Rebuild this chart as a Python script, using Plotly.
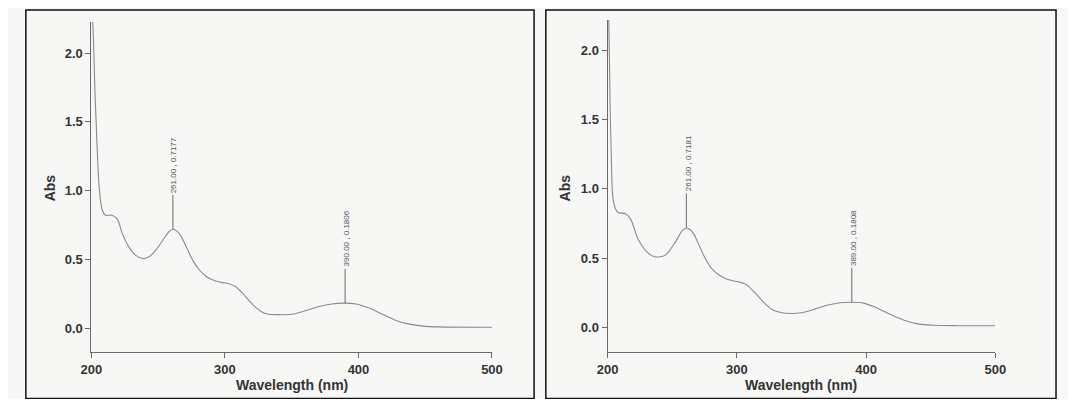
import plotly.graph_objects as go

# ---- data ----
wl_left = [200.5, 201.5, 202.5, 203.5, 204.5, 206, 208, 210.5, 215.5, 219.5, 223, 228, 233, 238.5,
           243.5, 248.5, 255, 258, 261, 264, 267, 271, 276, 281, 286, 292, 298, 303, 308, 313, 318,
           323, 328, 333, 340, 350, 360, 370, 380, 390, 398, 408, 418, 428, 438, 448, 460, 500]
abs_left = [2.30, 2.10, 1.75, 1.50, 1.25, 1.00, 0.86, 0.82, 0.82, 0.79, 0.69, 0.59, 0.53, 0.505,
            0.52, 0.57, 0.66, 0.70, 0.7177, 0.705, 0.67, 0.59, 0.49, 0.42, 0.375, 0.345, 0.33, 0.322,
            0.30, 0.255, 0.20, 0.15, 0.115, 0.10, 0.097, 0.10, 0.125, 0.155, 0.175, 0.1806, 0.175,
            0.145, 0.10, 0.055, 0.028, 0.014, 0.008, 0.005]

wl_right = [200.5, 201, 202, 203, 204, 206, 208, 214, 218, 223.5, 231, 236.5, 244.5, 252, 258, 261,
            264, 267, 271, 276, 281, 286, 292, 298, 303, 308, 313, 318, 323, 328, 335, 342, 350,
            360, 370, 380, 389, 398, 406, 414, 422, 430, 440, 452, 470, 500]
abs_right = [2.30, 2.20, 1.60, 1.20, 0.95, 0.86, 0.83, 0.82, 0.78, 0.64, 0.54, 0.51, 0.52, 0.61, 0.70,
             0.7181, 0.705, 0.67, 0.59, 0.49, 0.42, 0.38, 0.35, 0.335, 0.325, 0.305, 0.26, 0.21, 0.16,
             0.125, 0.105, 0.10, 0.105, 0.13, 0.16, 0.178, 0.1808, 0.175, 0.15, 0.115, 0.08, 0.05, 0.025,
             0.015, 0.012, 0.012]

peaks_left_wl = [261.00, 390.00]
peaks_left_abs = [0.7177, 0.1806]
peaks_right_wl = [261.00, 389.00]
peaks_right_abs = [0.7181, 0.1808]

x_ticks = [200, 300, 400, 500]
y_ticks = [0.0, 0.5, 1.0, 1.5, 2.0]

# ---- styling ----
W, H = 1060, 391          # page body has an 8px margin
BG = "#f7f7f6"
CURVE = "#8a8a8a"
AXC = "#6a6a6a"
TXT = "#333333"
LEAD = 0.25  # leader line length (data units)
FONT = "Liberation Sans, Arial, sans-serif"
OFF = 8


def fx(v):
    return (v - OFF) / W


def fy(v):
    return 1 - (v - OFF) / H


fig = go.Figure()

panels = [
    dict(wl=wl_left, ab=abs_left, pw=peaks_left_wl, pa=peaks_left_abs, xa="x", ya="y"),
    dict(wl=wl_right, ab=abs_right, pw=peaks_right_wl, pa=peaks_right_abs, xa="x2", ya="y2"),
]

for p in panels:
    fig.add_trace(go.Scatter(x=p["wl"], y=p["ab"], mode="lines",
                             line=dict(color=CURVE, width=1.1, shape="spline", smoothing=0.8),
                             xaxis=p["xa"], yaxis=p["ya"], showlegend=False, hoverinfo="skip"))
    for w, a in zip(p["pw"], p["pa"]):
        fig.add_trace(go.Scatter(x=[w, w], y=[a, a + LEAD], mode="lines",
                                 line=dict(color=AXC, width=1),
                                 xaxis=p["xa"], yaxis=p["ya"], showlegend=False, hoverinfo="skip"))
        fig.add_annotation(x=w, y=a + LEAD, xref=p["xa"], yref=p["ya"],
                           text=f"{w:.2f} , {a:.4f}", textangle=-90, showarrow=False,
                           xanchor="center", yanchor="bottom", xshift=1.5,
                           font=dict(family=FONT, size=8, color="#555555"))

axis_common = dict(showline=True, linecolor=AXC, linewidth=1, ticks="outside", ticklen=5,
                   tickcolor=AXC, showgrid=False, zeroline=False,
                   tickfont=dict(family=FONT, size=13, color=TXT, weight="bold"))

# panel geometry in page pixels
L = dict(x0=82, x1=491, ytop=22, ybot=352)
R = dict(x0=609, x1=1005, ytop=20, ybot=352)

fig.update_layout(
    width=W, height=H, margin=dict(l=0, r=0, t=0, b=0),
    paper_bgcolor=BG, plot_bgcolor=BG,
    xaxis=dict(domain=[fx(L["x0"]), fx(L["x1"])], range=[200, 500], tickvals=x_ticks,
               anchor="y", **axis_common),
    yaxis=dict(domain=[fy(L["ybot"]), fy(L["ytop"])], range=[-0.1745, 2.2255],
               tickvals=y_ticks, tickformat=".1f", anchor="x", **axis_common),
    xaxis2=dict(domain=[fx(R["x0"]), fx(R["x1"])], range=[200, 500], tickvals=x_ticks,
                anchor="y2", **axis_common),
    yaxis2=dict(domain=[fy(R["ybot"]), fy(R["ytop"])], range=[-0.178, 2.22],
                tickvals=y_ticks, tickformat=".1f", anchor="x2", **axis_common),
)

# frames
for x0, x1 in [(15, 534), (546, 1067)]:
    fig.add_shape(type="rect", xref="paper", yref="paper",
                  x0=fx(x0), x1=fx(x1), y0=fy(398.5), y1=fy(10),
                  line=dict(color="#111111", width=1.5), fillcolor="rgba(0,0,0,0)", layer="below")

# axis titles
title_font = dict(family=FONT, size=14, color=TXT, weight="bold")
for xc in [(L["x0"] + L["x1"]) / 2, (R["x0"] + R["x1"]) / 2]:
    fig.add_annotation(x=fx(xc), y=fy(385), xref="paper", yref="paper",
                       text="Wavelength (nm)", showarrow=False, font=title_font,
                       xanchor="center", yanchor="middle")
for xa in [40, 566]:
    fig.add_annotation(x=fx(xa), y=fy(188), xref="paper", yref="paper",
                       text="Abs", textangle=-90, showarrow=False, font=title_font,
                       xanchor="center", yanchor="middle")

fig.write_html("out.html")
